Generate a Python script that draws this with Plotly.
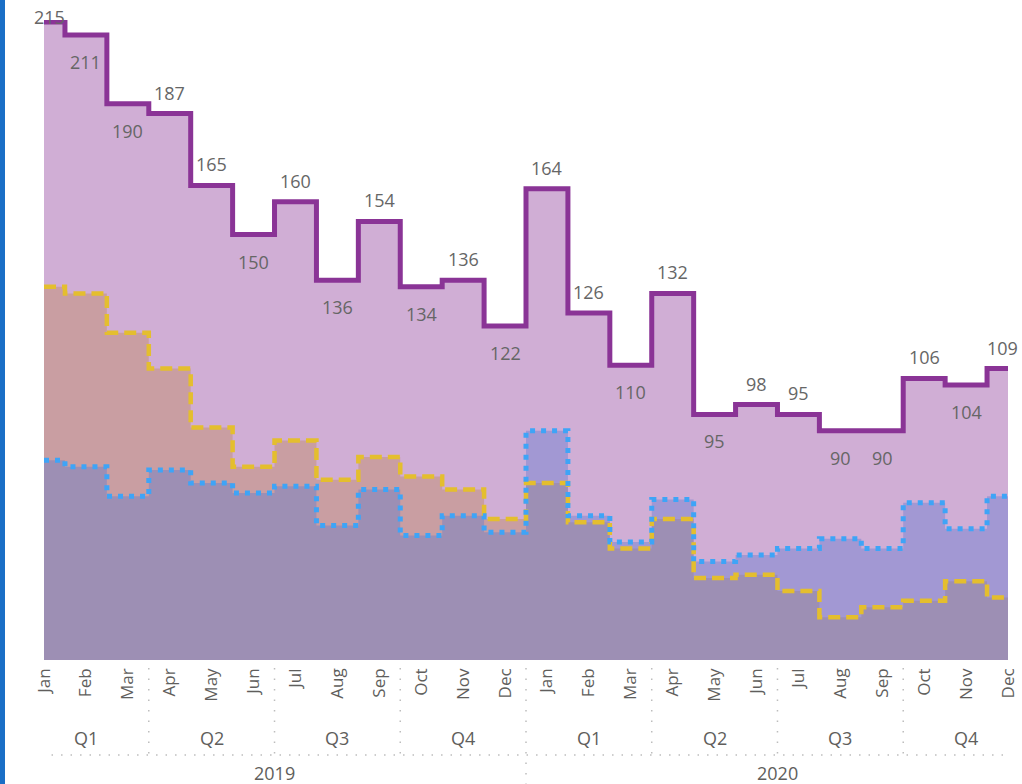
import plotly.graph_objects as go

# ---- data ----
months = ["Jan", "Feb", "Mar", "Apr", "May", "Jun", "Jul", "Aug", "Sep", "Oct", "Nov", "Dec"]
quarters = ["Q1", "Q2", "Q3", "Q4"]
years = ["2019", "2020"]

series_purple = [215, 211, 190, 187, 165, 150, 160, 136, 154, 134, 136, 122,
                 164, 126, 110, 132, 95, 98, 95, 90, 90, 106, 104, 109]
series_yellow = [134, 132, 120, 109, 91, 79, 87, 75, 82, 76, 72, 63,
                 74, 62, 54, 63, 45, 46, 41, 33, 36, 38, 44, 39]
series_blue = [81, 79, 70, 78, 74, 71, 73, 61, 72, 58, 64, 59,
               90, 64, 56, 69, 50, 52, 54, 57, 54, 68, 60, 70]

# label placement (style): "u" above line, "d" below line
label_side = ["u", "d", "d", "u", "u", "d", "u", "d", "u", "d", "u", "d",
              "u", "u", "d", "u", "d", "u", "u", "d", "d", "u", "d", "u"]

# ---- styles ----
FONT = "Segoe UI, Open Sans, sans-serif"
C_PURPLE = "rgb(138,52,150)"
C_YELLOW = "rgb(228,190,46)"
C_BLUE = "rgb(62,164,247)"
F_PURPLE = "rgba(138,52,150,0.4)"
F_YELLOW = "rgba(228,190,46,0.4)"
F_BLUE = "rgba(62,164,247,0.4)"
TXT = "#605E5C"
SEP = "#BDBDBD"

n = len(series_purple)
x = list(range(n))
ticktext = [m for _ in years for m in months]

fig = go.Figure()

# fills (bottom to top: yellow, blue, purple)
for ys, fc in [(series_yellow, F_YELLOW), (series_blue, F_BLUE), (series_purple, F_PURPLE)]:
    fig.add_trace(go.Scatter(x=x, y=ys, mode="lines", line=dict(width=0, shape="hvh"),
                             fill="tozeroy", fillcolor=fc, hoverinfo="skip"))

# lines
fig.add_trace(go.Scatter(x=x, y=series_yellow, mode="lines",
                         line=dict(color=C_YELLOW, width=4.5, shape="hvh", dash="12px,6px")))
fig.add_trace(go.Scatter(x=x, y=series_blue, mode="lines",
                         line=dict(color=C_BLUE, width=5, shape="hvh", dash="5px,6px")))
fig.add_trace(go.Scatter(x=x, y=series_purple, mode="lines",
                         line=dict(color=C_PURPLE, width=5, shape="hvh")))

# data labels
for i, (v, side) in enumerate(zip(series_purple, label_side)):
    ysh = 21 if side == "u" else -27
    xsh = 0
    if i == 0:
        xsh, ysh = 5, 5
    if i == n - 1:
        xsh = -6
    fig.add_annotation(x=i, y=v, text=str(v), showarrow=False, xshift=xsh, yshift=ysh,
                       font=dict(family=FONT, size=18, color="#666666"))

# hierarchical axis: quarters and years
H_TOP = -0.0125   # just below plot
H_MID = -0.1484   # separator between quarter and year rows
H_BOT = -0.21
for yi, yr in enumerate(years):
    for qi, q in enumerate(quarters):
        center = yi * 12 + qi * 3 + 1
        fig.add_annotation(x=center, y=-0.1219, xref="x", yref="paper", text=q,
                           showarrow=False, yanchor="middle",
                           font=dict(family=FONT, size=18, color=TXT))
    fig.add_annotation(x=yi * 12 + 5.5, y=-0.1766, xref="x", yref="paper", text=yr,
                       showarrow=False, yanchor="middle",
                       font=dict(family=FONT, size=18, color=TXT))

shapes = []
for b in range(0, n, 3):
    xb = b - 0.5
    is_year = (b % 12 == 0)
    shapes.append(dict(type="line", xref="x", yref="paper", x0=xb, x1=xb,
                       y0=H_TOP, y1=H_BOT if is_year else H_MID,
                       line=dict(color=SEP, width=1.5, dash="1.5px,9px")))
shapes.append(dict(type="line", xref="x", yref="paper", x0=-0.5, x1=n - 0.5 + 1,
                   y0=H_MID, y1=H_MID, line=dict(color=SEP, width=1.5, dash="1.5px,8px")))
# left blue border of the visual
shapes.append(dict(type="rect", xref="paper", yref="paper",
                   x0=-44 / 964, x1=-39 / 964, y0=-0.2, y1=1.04,
                   fillcolor="#1A6FC6", line=dict(width=0), layer="above"))

fig.update_layout(
    width=1022, height=784,
    margin=dict(l=44, r=14, t=20, b=124),
    paper_bgcolor="white", plot_bgcolor="white",
    showlegend=False,
    shapes=shapes,
    font=dict(family=FONT, color=TXT),
    xaxis=dict(range=[0, n - 1], tickmode="array", tickvals=x, ticktext=ticktext,
               tickangle=-90, showgrid=False, zeroline=False, showline=False, ticks="",
               automargin=False, ticklabelstandoff=4,
               tickfont=dict(family=FONT, size=17, color=TXT), fixedrange=True),
    yaxis=dict(range=[19.9, 215.6], visible=False, automargin=False, fixedrange=True),
)

fig.write_html("out.html", config={"displayModeBar": False},
               post_script="document.body.style.margin='0';document.body.style.overflow='hidden';")
